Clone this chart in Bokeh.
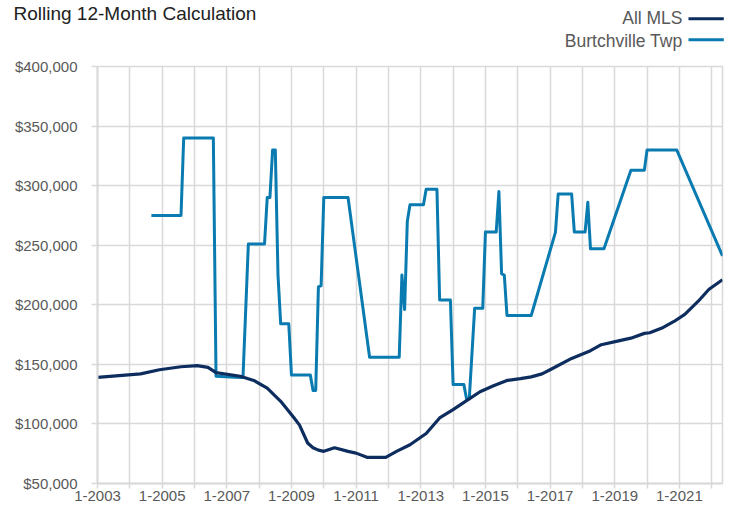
from bokeh.plotting import figure
from bokeh.models import Range1d, FixedTicker, NumeralTickFormatter, Label
from bokeh.embed import file_html
from bokeh.resources import INLINE

# ---- data (month index: 0 = 1-2003) ----
mls_months = [0, 16, 23, 31, 37, 41, 44, 53, 58, 63, 68, 73, 75, 78, 80, 82, 84, 88, 93, 96,
              100, 107, 111, 116, 122, 127, 132, 137, 142, 147, 152, 157, 161, 165, 168, 176,
              183, 187, 193, 198, 203, 205, 210, 214, 218, 223, 227, 232]
mls_values = [139000, 142000, 145500, 148000, 149000, 147500, 143000, 140000, 136500, 130000,
              119000, 105000, 99000, 84000, 80000, 78000, 77000, 80000, 77000, 75500,
              72000, 72000, 77000, 82500, 92000, 105000, 112000, 119500, 127000, 132000,
              136500, 138000, 139500, 142000, 145500, 155000, 161500, 166500, 169500, 172000,
              176000, 176500, 181000, 186000, 192000, 203000, 213000, 221000]

twp_months = [20, 31, 32, 43, 44, 53, 54, 56, 62, 63, 64, 65, 66, 67, 68, 71, 72, 79, 80, 81,
              82, 83, 84, 93, 101, 112, 113, 114, 115, 116, 121, 122, 126, 127, 131, 132, 136,
              137, 138, 140, 143, 144, 148, 149, 150, 151, 152, 161, 170, 171, 176, 177, 181,
              182, 183, 188, 198, 203, 204, 215, 232]
twp_values = [275000, 275000, 340000, 340000, 140000, 139000, 139000, 251000, 251000, 290000,
              290000, 330000, 330000, 225000, 184000, 184000, 141000, 141000, 128000, 128000,
              215000, 216000, 290000, 290000, 156000, 156000, 225000, 196000, 270000, 284000,
              284000, 297000, 297000, 204000, 204000, 133000, 133000, 121000, 121000, 197000,
              197000, 261000, 261000, 295000, 226000, 225000, 191000, 191000, 261000, 293000,
              293000, 261000, 261000, 286000, 247000, 247000, 313000, 313000, 330000, 330000,
              241000]

series_names = ["All MLS", "Burtchville Twp"]
title_text = "Rolling 12-Month Calculation"
x_tick_months = list(range(0, 229, 12))
x_tick_labels = {m: ("1-%d" % (2003 + m // 12) if (m // 12) % 2 == 0 else "") for m in x_tick_months}
y_ticks = [50000, 100000, 150000, 200000, 250000, 300000, 350000, 400000]

NAVY = "#0d2d5e"
BLUE = "#0a7bb0"
GRID = "#d9d9d9"
TXT = "#595959"
FONT = "Liberation Sans"

p = figure(width=732, height=515, x_range=Range1d(0, 232), y_range=Range1d(50000, 400000),
           toolbar_location=None, output_backend="svg",
           min_border_left=97, min_border_right=10, min_border_top=66, min_border_bottom=32)
p.outline_line_color = GRID
p.outline_line_width = 1.5
p.background_fill_color = "white"

p.line(twp_months, twp_values, line_color=BLUE, line_width=3, line_join="round")
p.line(mls_months, mls_values, line_color=NAVY, line_width=3.2, line_join="round")

p.xaxis.ticker = FixedTicker(ticks=x_tick_months)
p.xaxis.major_label_overrides = x_tick_labels
p.yaxis.ticker = FixedTicker(ticks=y_ticks)
p.yaxis.formatter = NumeralTickFormatter(format="$0,0")

for ax in (p.xaxis[0], p.yaxis[0]):
    ax.axis_line_color = GRID
    ax.axis_line_width = 2
    ax.major_tick_line_color = GRID
    ax.major_tick_line_width = 1.5
    ax.major_tick_in = 0
    ax.minor_tick_line_color = None
    ax.major_label_text_font = FONT
    ax.major_label_text_font_size = "15px"
    ax.major_label_text_color = TXT
p.xaxis.major_tick_out = 5
p.xaxis.major_label_standoff = 2
p.yaxis.major_tick_out = 6
p.yaxis.major_label_standoff = 14

p.grid.grid_line_color = GRID
p.grid.grid_line_width = 1.5

# ---- legend texts and title in the top side panel (first added = nearest the plot) ----
p.add_layout(Label(x=585, y=25.6, x_units="screen", y_units="screen", text=series_names[1],
                   text_font=FONT, text_font_size="17.5px", text_color=TXT,
                   text_baseline="alphabetic", text_align="right"), "above")
p.add_layout(Label(x=585, y=28.5, x_units="screen", y_units="screen", text=series_names[0],
                   text_font=FONT, text_font_size="17.5px", text_color=TXT,
                   text_baseline="alphabetic", text_align="right"), "above")
p.add_layout(Label(x=-84, y=13.4, x_units="screen", y_units="screen", text=title_text,
                   text_font=FONT, text_font_size="19px", text_color="#222222",
                   text_baseline="alphabetic", text_align="left"), "above")

# ---- legend swatches (small boxes, placed in the bottom side panel) ----
p.add_layout(Label(x=591, y=487.7, x_units="screen", y_units="screen", text=" ",
                   text_font_size="1px", text_baseline="middle", text_align="left",
                   background_fill_color=NAVY, padding=(0, 35, 1, 1)), "below")
p.add_layout(Label(x=591, y=469.8, x_units="screen", y_units="screen", text=" ",
                   text_font_size="1px", text_baseline="middle", text_align="left",
                   background_fill_color=BLUE, padding=(0, 35, 1, 1)), "below")

open("out.html", "w").write(file_html(p, INLINE))
